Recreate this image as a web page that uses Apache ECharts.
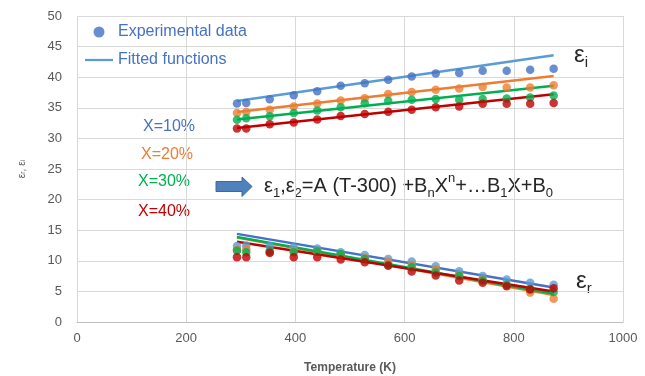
<!DOCTYPE html>
<html><head><meta charset="utf-8">
<script src="https://cdn.jsdelivr.net/npm/echarts@6/dist/echarts.min.js"></script>
<style>html,body{margin:0;padding:0;background:#fff}#c{width:645px;height:376px}</style>
</head><body><div id="c"></div>
<script>
const temps = [293,310,353,397,440,483,527,570,613,657,700,743,787,830,873];
const groups = ['X=10%','X=20%','X=30%','X=40%'];
// imaginary part (upper)
const epsI_10 = [35.7,35.8,36.4,37.05,37.7,38.6,39.0,39.6,40.1,40.6,40.7,41.05,41.05,41.2,41.4];
const epsI_20 = [34.15,34.3,34.7,35.2,35.7,36.2,36.55,37.25,37.6,37.95,38.15,38.4,38.3,38.3,38.7];
const epsI_30 = [33.05,33.3,33.6,34.15,34.55,35.1,35.75,36.15,36.3,36.45,36.3,36.45,36.5,36.7,37.0];
const epsI_40 = [31.6,31.6,32.3,32.6,33.1,33.65,34.0,34.35,34.7,35.1,35.2,35.65,35.65,35.65,35.8];
// real part (lower)
const epsR_10 = [12.4,12.5,12.4,12.2,12.0,11.4,10.95,10.3,9.9,9.1,8.3,7.5,6.95,6.4,6.1];
const epsR_20 = [11.8,11.9,11.3,11.6,11.5,11.0,10.4,9.8,9.3,8.6,7.7,6.9,6.0,4.8,3.8];
const epsR_30 = [11.65,11.4,11.65,11.4,11.5,11.1,10.3,9.3,8.95,8.1,7.5,6.8,6.1,5.4,4.9];
const epsR_40 = [10.6,10.6,11.3,10.6,10.6,10.2,9.75,9.2,8.25,7.6,6.8,6.4,5.85,5.3,5.5];
// fitted lines: values at first and last temperature
const fitI_start = [36.1,34.3,33.1,31.7];
const fitI_end   = [43.6,40.2,38.6,37.2];
const fitR_start = [14.4,13.8,13.9,13.1];
const fitR_end   = [5.65,4.4,4.6,5.0];
const xTicks = [0,200,400,600,800,1000];

const epsI = [epsI_10,epsI_20,epsI_30,epsI_40];
const epsR = [epsR_10,epsR_20,epsR_30,epsR_40];
const ptColI = ['#4472C4','#ED7D31','#00B050','#C00000'];
const ptColR = ['#5B9BD5','#ED7D31','#00B050','#C00000'];
const lnColI = ['#5B9BD5','#ED7D31','#00B050','#C00000'];
const lnColR = ['#4472C4','#ED7D31','#00B050','#C00000'];

const FONT = 'Liberation Sans';
const series = [];
for (let k = 0; k < 4; k++) {
  series.push({
    type:'line', name: k===0 ? 'Fitted functions' : groups[k]+' fit i',
    data:[[temps[0],fitI_start[k]],[temps[temps.length-1],fitI_end[k]]],
    showSymbol:false, symbol:'none', color: lnColI[k],
    lineStyle:{width:2.5,color:lnColI[k]}, z:2, silent:true
  });
  series.push({
    type:'line', name: groups[k]+' fit r',
    data:[[temps[0],fitR_start[k]],[temps[temps.length-1],fitR_end[k]]],
    showSymbol:false, symbol:'none', color: lnColR[k],
    lineStyle:{width:2.5,color:lnColR[k]}, z:2, silent:true
  });
}
for (let k = 0; k < 4; k++) {
  series.push({
    type:'scatter', name: k===0 ? 'Experimental data' : groups[k]+' data i',
    data: temps.map((t,i)=>[t,epsI[k][i]]), symbolSize:8.5, color: ptColI[k],
    itemStyle:{color:ptColI[k]}, z:3
  });
  series.push({
    type:'scatter', name: groups[k]+' data r',
    data: temps.map((t,i)=>[t,epsR[k][i]]), symbolSize:8.5, color: ptColR[k],
    itemStyle:{color:ptColR[k]}, z:3
  });
}

const subStyle = (fs) => ({fontSize:fs, fontFamily:FONT, verticalAlign:'bottom', lineHeight:fs, color:'#262626'});
const supStyle = (fs) => ({fontSize:fs, fontFamily:FONT, verticalAlign:'top', lineHeight:fs, color:'#262626'});

const chart = echarts.init(document.getElementById('c'), null, {renderer:'canvas'});
chart.setOption({
  animation:false,
  backgroundColor:'#fff',
  grid:{left:77, right:22, top:16, bottom:54, containLabel:false, outerBoundsMode:'none'},
  xAxis:{
    type:'value', min:xTicks[0], max:xTicks[xTicks.length-1], interval:200,
    name:'Temperature (K)', nameLocation:'middle', nameGap:40,
    nameTextStyle:{fontFamily:FONT, fontSize:12, fontWeight:'bold', color:'#595959'},
    axisLine:{show:true, lineStyle:{color:'#bfbfbf', width:1}},
    axisTick:{show:false},
    axisLabel:{fontFamily:FONT, fontSize:13, color:'#595959', margin:10, formatter:(v)=>String(v)},
    splitLine:{show:true, lineStyle:{color:'#d9d9d9', width:1}}
  },
  yAxis:{
    type:'value', min:0, max:50, interval:5,
    name:'ε{s|r}, ε{s|i}', nameLocation:'middle', nameGap:50, nameRotate:90,
    nameTextStyle:{fontFamily:FONT, fontSize:10, color:'#595959',
      rich:{s:{fontSize:7, fontFamily:FONT, color:'#595959', verticalAlign:'bottom', lineHeight:7}}},
    axisLine:{show:false}, axisTick:{show:false},
    axisLabel:{fontFamily:FONT, fontSize:13, color:'#595959', margin:15},
    splitLine:{show:true, lineStyle:{color:'#d9d9d9', width:1}}
  },
  legend:{
    orient:'vertical', left:80, top:19, itemWidth:28, itemHeight:11, itemGap:12,
    data:[{name:'Experimental data', icon:'circle'}, {name:'Fitted functions', icon:'path://M0,0H30V2.4H0Z'}],
    textStyle:{fontFamily:FONT, fontSize:16, color:'#4472C4'},
    selectedMode:false
  },
  graphic:[
    {type:'text', x:574, y:40, style:{text:'ε{s|i}', fontFamily:FONT, fontSize:24, fill:'#262626', lineHeight:30,
      rich:{s:subStyle(15)}}},
    {type:'text', x:576, y:266, style:{text:'ε{s|r}', fontFamily:FONT, fontSize:24, fill:'#262626', lineHeight:30,
      rich:{s:subStyle(15)}}},
    {type:'text', x:143, y:127, style:{text:groups[0], fontFamily:FONT, fontSize:16, fill:'#4472C4', verticalAlign:'middle'}},
    {type:'text', x:141, y:155, style:{text:groups[1], fontFamily:FONT, fontSize:16, fill:'#ED7D31', verticalAlign:'middle'}},
    {type:'text', x:138, y:182, style:{text:groups[2], fontFamily:FONT, fontSize:16, fill:'#00B050', verticalAlign:'middle'}},
    {type:'text', x:138, y:212, style:{text:groups[3], fontFamily:FONT, fontSize:16, fill:'#C00000', verticalAlign:'middle'}},
    {type:'polygon', shape:{points:[[216,181.5],[242,181.5],[242,177],[252,186.5],[242,196.5],[242,191.5],[216,191.5]]},
      style:{fill:'#4F81BD', stroke:'#3A6A9E', lineWidth:1}},
    {type:'text', x:264, y:172, style:{
      text:'ε{s|1},ε{s|2}=A (T-300) +B{s|n}X{p|n}+…B{s|1}X+B{s|0}',
      fontFamily:FONT, fontSize:20, fill:'#262626', lineHeight:28,
      rich:{s:subStyle(13), p:supStyle(13)}}}
  ],
  series: series
});
</script></body></html>
